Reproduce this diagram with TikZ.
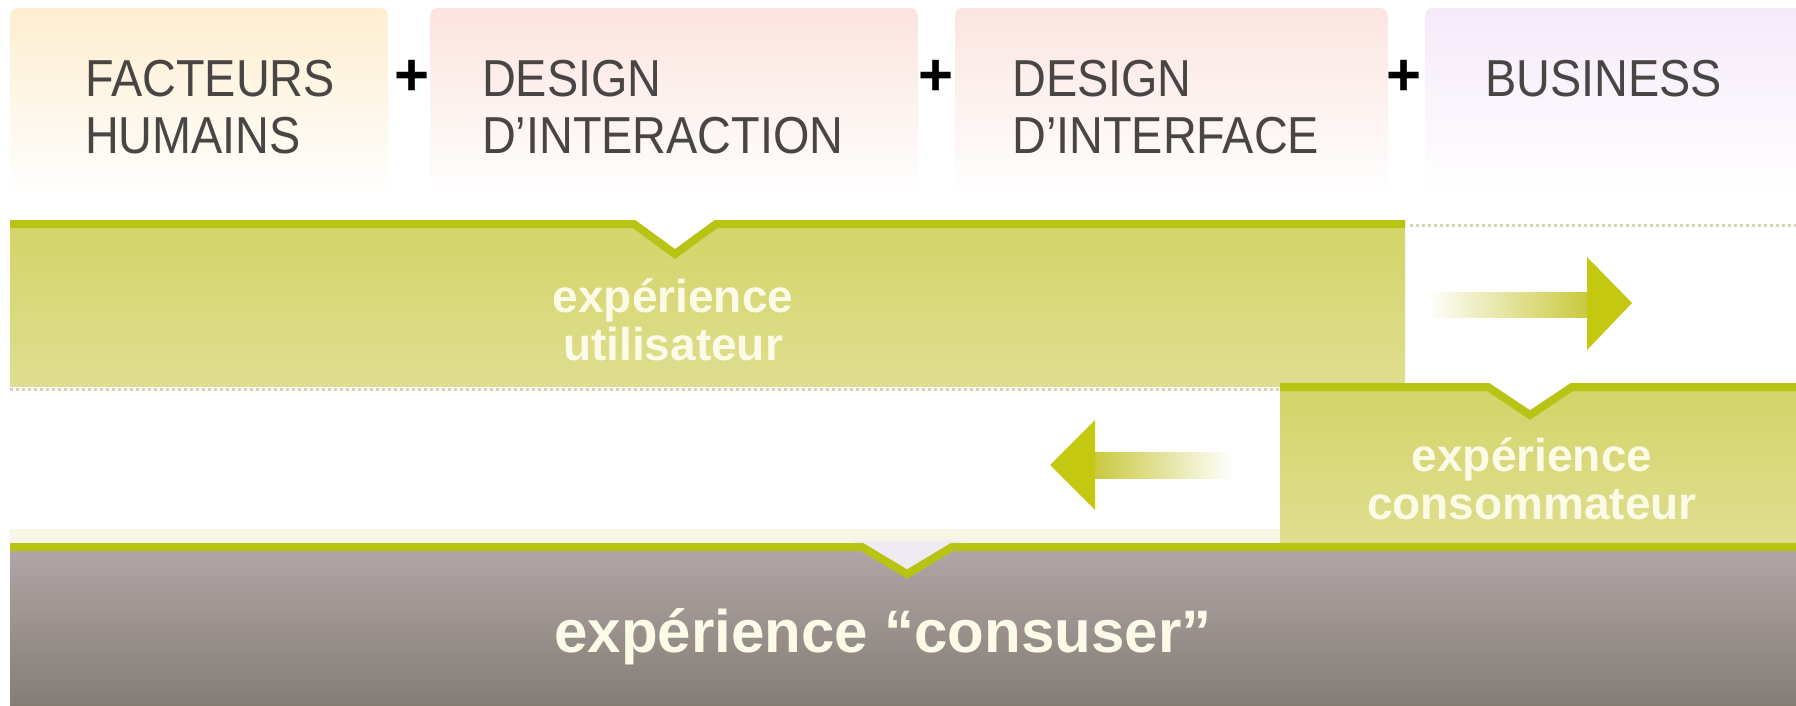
\documentclass[tikz,border=0pt]{standalone}
\usepackage{fontspec}
\setmainfont{Liberation Sans}
\newfontfamily\hdfont[FakeStretch=0.9]{Liberation Sans}
\newfontfamily\bdfont{Liberation Sans}
\definecolor{lineg}{RGB}{184,196,20}
\definecolor{bandtop}{RGB}{211,212,104}
\definecolor{bandbot}{RGB}{223,222,144}
\definecolor{arrg}{RGB}{196,200,16}
\definecolor{shaftg}{RGB}{200,200,60}
\definecolor{graytop}{RGB}{178,166,166}
\definecolor{graybot}{RGB}{132,125,118}
\definecolor{hdtext}{RGB}{74,69,69}
\definecolor{cream}{RGB}{252,251,232}
\definecolor{paleline}{RGB}{247,246,230}
\definecolor{notchgray}{RGB}{238,235,242}
\definecolor{boxA}{RGB}{253,238,208}
\definecolor{boxB}{RGB}{251,228,222}
\definecolor{boxC}{RGB}{251,229,224}
\definecolor{boxD}{RGB}{246,234,250}
\definecolor{dotc}{RGB}{212,212,172}
\begin{document}
\begin{tikzpicture}[x=1pt,y=-1pt,
  hd/.style={anchor=north west,inner sep=0pt,align=left,text=hdtext,font=\hdfont\fontsize{52}{57}\selectfont},
  plus/.style={inner sep=0pt,text=black,font=\bfseries\fontsize{60}{60}\selectfont},
  bandtxt/.style={inner sep=0pt,align=center,text=cream,font=\bdfont\bfseries\fontsize{46}{47.5}\selectfont},
  bigtxt/.style={inner sep=0pt,anchor=base,text=cream,font=\bdfont\bfseries\fontsize{60}{60}\selectfont},
  gline/.style={draw=lineg,line width=8pt,line join=miter},
  dotl/.style={draw=dotc,line width=3pt,dash pattern=on 3pt off 3pt},
  hbox/.style={rounded corners=8pt}]
\useasboundingbox (0,0) rectangle (1796,705);
\fill[white] (0,0) rectangle (1796,705);
% header boxes
\shade[hbox,top color=boxA,bottom color=white] (10,8) rectangle (388,195);
\shade[hbox,top color=boxB,bottom color=white] (430,8) rectangle (918,195);
\shade[hbox,top color=boxC,bottom color=white] (955,8) rectangle (1388,195);
\shade[hbox,top color=boxD,bottom color=white] (1425,8) rectangle (1810,195);
% header labels
\node[hd] (fh) at (85,60) {FACTEURS\\HUMAINS};
\node[plus] (p1) at (412,78) {+};
\node[hd] (dia) at (482,60) {DESIGN\\D’INTERACTION};
\node[plus] (p2) at (936,78) {+};
\node[hd] (dif) at (1012,60) {DESIGN\\D’INTERFACE};
\node[plus] (p3) at (1404,78) {+};
\node[hd] (bus) at (1485,60) {BUSINESS};
% band 1 : experience utilisateur
\shade[top color=bandtop,bottom color=bandbot] (10,220) rectangle (1405,386);
\fill[white] (627,219) -- (723,219) -- (675,254) -- cycle;
\draw[gline] (10,224) -- (634,224) -- (675,254) -- (716,224) -- (1405,224);
\draw[dotl] (1410,225) -- (1796,225);
% right arrow
\shade[left color=white,right color=shaftg] (1427,292) rectangle (1590,317);
\fill[arrg] (1587,257) -- (1632,303) -- (1587,350) -- cycle;
% dotted under band 1
\draw[dotl] (10,389) -- (1280,389);
% pale strip above gray band
\fill[paleline] (10,529) rectangle (1280,543);
% band 2 : experience consommateur
\shade[top color=bandtop,bottom color=bandbot] (1280,383) rectangle (1796,543);
\fill[white] (1480.5,382) -- (1579.5,382) -- (1530,415) -- cycle;
\draw[gline] (1280,387) -- (1488,387) -- (1530,415) -- (1572,387) -- (1796,387);
% left arrow
\shade[left color=shaftg,right color=white] (1092,452) rectangle (1233,478);
\fill[arrg] (1095,420) -- (1050,465) -- (1095,510) -- cycle;
% gray band
\shade[top color=graytop,bottom color=graybot] (10,547) rectangle (1796,705);
\fill[notchgray] (852,541) -- (962,541) -- (907,574) -- cycle;
\draw[gline] (10,547) -- (862,547) -- (907,574) -- (952,547) -- (1796,547);
% band labels
\node[bandtxt] (ux) at (673,319.7) {expérience\\utilisateur};
\node[bandtxt] (cx) at (1532,479) {expérience\\consommateur};
\node[bigtxt] (cu) at (883,652) {expérience “consuser”};
\end{tikzpicture}
\end{document}
